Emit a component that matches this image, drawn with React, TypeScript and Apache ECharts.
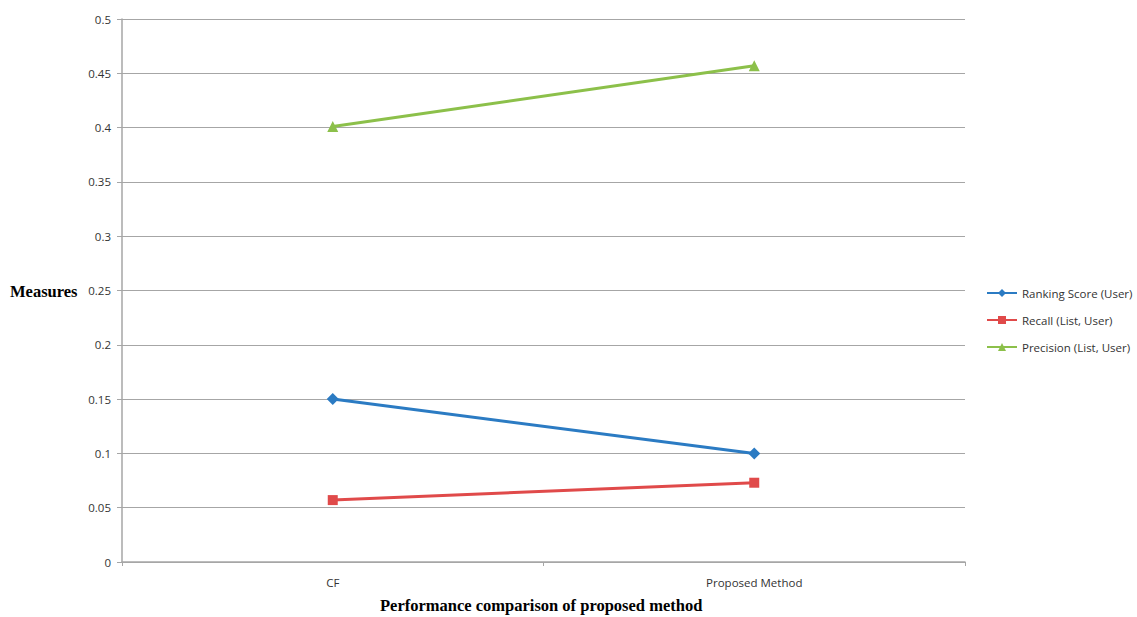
import React, { useEffect, useRef } from "react";
import * as echarts from "echarts";

const categories = ["CF", "Proposed Method"];
const rankingScore = [0.15, 0.1];
const recall = [0.057, 0.073];
const precision = [0.401, 0.457];
const yTicks = [0, 0.05, 0.1, 0.15, 0.2, 0.25, 0.3, 0.35, 0.4, 0.45, 0.5];

const seriesNames = ["Ranking Score (User)", "Recall (List, User)", "Precision (List, User)"];
const colors = ["#2b7bc3", "#e04a4a", "#8cc04a"];

export default function App() {
  const ref = useRef<HTMLDivElement>(null);

  useEffect(() => {
    if (!ref.current) return;
    const chart = echarts.init(ref.current, undefined, { renderer: "svg" });
    const labelFont = "'Open Sans', 'DejaVu Sans', sans-serif";
    const titleFont = "bold 16.5px 'Liberation Serif', 'Times New Roman', serif";
    const mk = (i: number, data: number[], symbol: string, size: number) => ({
      name: seriesNames[i],
      type: "line",
      data,
      symbol,
      symbolSize: size,
      showSymbol: true,
      lineStyle: { color: colors[i], width: 3 },
      itemStyle: { color: colors[i] },
    });
    chart.setOption({
      animation: false,
      backgroundColor: "#ffffff",
      grid: { left: 122, right: 172, top: 19, bottom: 55 },
      xAxis: {
        type: "category",
        data: categories,
        boundaryGap: true,
        axisLine: { lineStyle: { color: "#a6a6a6", width: 1.5 } },
        axisTick: { show: true, length: 4, lineStyle: { color: "#a6a6a6" } },
        axisLabel: { color: "#333", fontSize: 11.5, fontFamily: labelFont, margin: 14 },
      },
      yAxis: {
        type: "value",
        min: 0,
        max: 0.5,
        interval: 0.05,
        axisLine: { show: true, lineStyle: { color: "#a6a6a6", width: 1.5 } },
        axisTick: { show: true, length: 5, lineStyle: { color: "#a6a6a6" } },
        splitLine: { lineStyle: { color: "#a6a6a6", width: 1.2 } },
        axisLabel: {
          color: "#333",
          fontSize: 11.5,
          fontFamily: labelFont,
          margin: 11,
          formatter: (v: number) => {
            const t = yTicks.find((x) => Math.abs(x - v) < 1e-9);
            return String(t !== undefined ? t : v);
          },
        },
      },
      legend: {
        orient: "vertical",
        left: 981,
        top: 282,
        itemGap: 15,
        itemWidth: 30,
        itemHeight: 10,
        textStyle: { color: "#333", fontSize: 11.5, fontFamily: labelFont },
        data: seriesNames,
      },
      graphic: [
        {
          type: "text",
          left: 10,
          top: 283,
          style: { text: "Measures", font: titleFont, fill: "#000" },
        },
        {
          type: "text",
          left: 380,
          top: 597,
          style: { text: "Performance comparison of proposed method", font: titleFont, fill: "#000" },
        },
      ],
      series: [
        mk(0, rankingScore, "diamond", 12),
        mk(1, recall, "rect", 10),
        mk(2, precision, "triangle", 11),
      ],
    });
    return () => chart.dispose();
  }, []);

  return (
    <div
      ref={ref}
      style={{ position: "fixed", left: 0, top: 0, width: 1137, height: 617, background: "#fff" }}
    />
  );
}
